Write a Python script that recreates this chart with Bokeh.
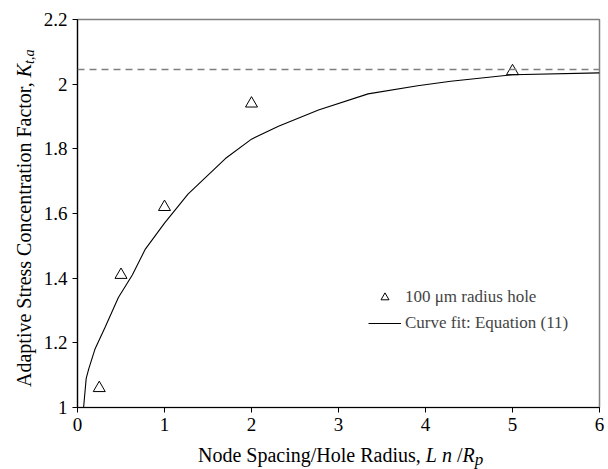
from bokeh.plotting import figure
from bokeh.models import (FixedTicker, CustomJSTickFormatter, Span, Legend,
                          LegendItem, Range1d, Div)
from bokeh.layouts import column, row
from bokeh.embed import file_html
from bokeh.resources import INLINE

# ---- data ----
spacing_ratio = [0.25, 0.5, 1.0, 2.0, 5.0]
k_measured = [1.06, 1.41, 1.62, 1.94, 2.04]

fit_x = [0.07, 0.10, 0.13, 0.20, 0.32, 0.47, 0.63, 0.78, 1.0, 1.27, 1.70,
         2.0, 2.31, 2.77, 3.34, 3.91, 4.29, 5.0, 6.0]
fit_y = [1.00, 1.09, 1.12, 1.18, 1.25, 1.34, 1.41, 1.49, 1.57, 1.66, 1.77,
         1.83, 1.87, 1.92, 1.97, 1.995, 2.009, 2.029, 2.035]

k_asymptote = 2.045

x_ticks = [0, 1, 2, 3, 4, 5, 6]
y_ticks = [1.0, 1.2, 1.4, 1.6, 1.8, 2.0, 2.2]

x_title = 'Node Spacing/Hole Radius, <i>L</i> <i>n</i> /<i>R</i><sub style="font-size:17px;vertical-align:-3px;line-height:0"><i>p</i></sub>'
y_title = 'Adaptive Stress Concentration Factor, <i>K</i><sub style="font-size:14px;vertical-align:-3px;line-height:0"><i>t,a</i></sub>'

FONT = "Liberation Serif"
CSS_FONT = "font-family:'Liberation Serif',serif;font-size:20px;line-height:20px;color:black;white-space:nowrap;"

p = figure(width=568, height=441, x_range=Range1d(0, 6), y_range=Range1d(1, 2.2),
           output_backend="svg", toolbar_location=None,
           min_border_left=36, min_border_right=9, min_border_top=19,
           min_border_bottom=34)
p.background_fill_color = "white"
p.border_fill_color = "white"
p.outline_line_color = "#808080"
p.outline_line_width = 1.5
p.grid.visible = False

for ax in (p.xaxis[0], p.yaxis[0]):
    ax.axis_line_color = "black"
    ax.axis_line_width = 1.2
    ax.major_tick_line_color = "black"
    ax.major_tick_in = 0
    ax.major_tick_out = 5
    ax.minor_tick_line_color = None
    ax.major_label_text_font = FONT
    ax.major_label_text_font_size = "19px"
    ax.major_label_text_color = "black"
    ax.major_label_standoff = 5
    ax.formatter = CustomJSTickFormatter(code="return (Math.round(tick*10)/10).toString();")

p.xaxis[0].ticker = FixedTicker(ticks=x_ticks)
p.yaxis[0].ticker = FixedTicker(ticks=y_ticks)

p.add_layout(Span(location=k_asymptote, dimension="width", line_color="#808080",
                  line_dash="7 5", line_width=1.5))

r_fit = p.line(fit_x, fit_y, line_color="black", line_width=1.1)
r_pts = p.scatter(spacing_ratio, k_measured, marker="triangle", size=12,
                  fill_color=None, line_color="black", line_width=1)

legend = Legend(items=[LegendItem(label="100 μm radius hole", renderers=[r_pts]),
                       LegendItem(label="Curve fit: Equation (11)", renderers=[r_fit])],
                location=(291, 74), glyph_width=33, glyph_height=20, label_height=20,
                spacing=6, padding=0, margin=0, border_line_color=None,
                background_fill_alpha=0, label_text_font=FONT,
                label_text_font_size="17px", label_standoff=4)
p.add_layout(legend)

# ---- axis titles with italic / subscript parts ----
ydiv = Div(width=40, height=441, margin=0,
           text=f'<div style="{CSS_FONT}margin:387px 0 0 14px;width:400px;'
                f'transform:rotate(-90deg);transform-origin:left top;">{y_title}</div>')
xdiv = Div(width=608, height=28, margin=0,
           text=f'<div style="{CSS_FONT}margin:4px 0 0 198px;">{x_title}</div>')

layout = column(row(ydiv, p, spacing=0), xdiv, spacing=0)

open("out.html", "w").write(file_html(layout, INLINE))
